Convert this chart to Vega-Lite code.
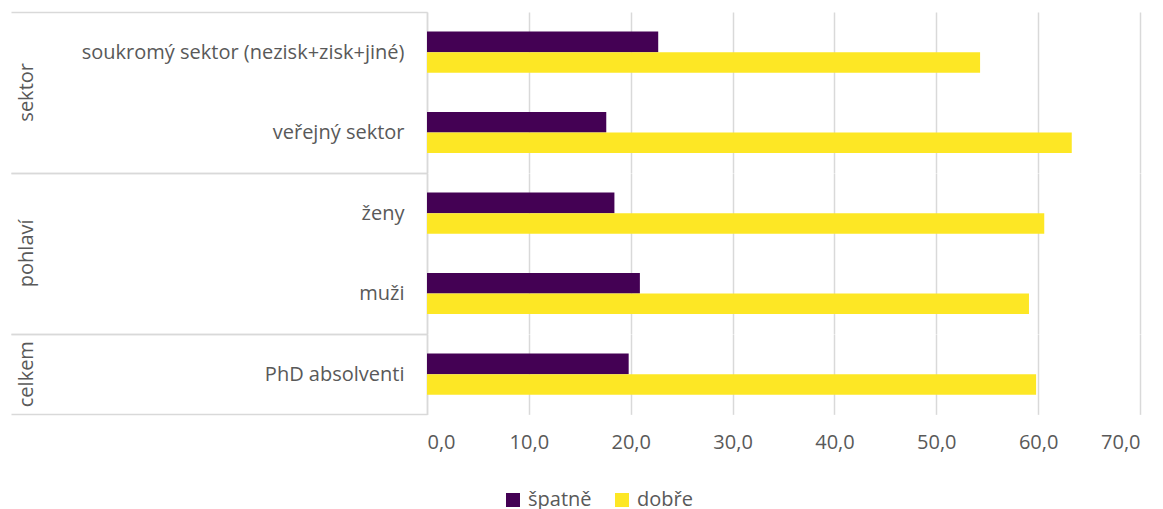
{
  "$schema": "https://vega.github.io/schema/vega-lite/v6.json",
  "padding": {"left": 10, "top": 2, "right": 5, "bottom": 5},
  "background": "white",
  "bounds": "flush",
  "spacing": 0,
  "data": {
    "values": [
      {"skupina": "sektor", "kategorie": "soukromý sektor (nezisk+zisk+jiné)", "serie": "špatně", "hodnota": 22.7},
      {"skupina": "sektor", "kategorie": "soukromý sektor (nezisk+zisk+jiné)", "serie": "dobře", "hodnota": 54.3},
      {"skupina": "sektor", "kategorie": "veřejný sektor", "serie": "špatně", "hodnota": 17.6},
      {"skupina": "sektor", "kategorie": "veřejný sektor", "serie": "dobře", "hodnota": 63.3},
      {"skupina": "pohlaví", "kategorie": "ženy", "serie": "špatně", "hodnota": 18.4},
      {"skupina": "pohlaví", "kategorie": "ženy", "serie": "dobře", "hodnota": 60.6},
      {"skupina": "pohlaví", "kategorie": "muži", "serie": "špatně", "hodnota": 20.9},
      {"skupina": "pohlaví", "kategorie": "muži", "serie": "dobře", "hodnota": 59.1},
      {"skupina": "celkem", "kategorie": "PhD absolventi", "serie": "špatně", "hodnota": 19.8},
      {"skupina": "celkem", "kategorie": "PhD absolventi", "serie": "dobře", "hodnota": 59.8}
    ]
  },
  "facet": {
    "row": {
      "field": "skupina",
      "type": "nominal",
      "sort": ["sektor", "pohlaví", "celkem"],
      "header": {
        "title": null,
        "labelAngle": -90,
        "labelOrient": "left",
        "labelPadding": 380,
        "labelFont": "Open Sans",
        "labelFontSize": 20,
        "labelColor": "#595959"
      }
    }
  },
  "resolve": {"scale": {"y": "independent"}},
  "spec": {
    "width": 713,
    "height": {"step": 20.6},
    "mark": {"type": "bar"},
    "encoding": {
      "y": {
        "field": "kategorie",
        "type": "nominal",
        "sort": ["soukromý sektor (nezisk+zisk+jiné)", "veřejný sektor", "ženy", "muži", "PhD absolventi"],
        "scale": {"paddingInner": 0, "paddingOuter": 0},
        "axis": {
          "title": null,
          "domain": true,
          "domainColor": "#D9D9D9",
          "domainWidth": 1.5,
          "ticks": true,
          "tickBand": "extent",
          "tickSize": 416,
          "tickWidth": 1.5,
          "tickColor": {
            "condition": {"test": "(datum.value === 'soukromý sektor (nezisk+zisk+jiné)' || datum.value === 'ženy') && !datum.extra", "value": "transparent"},
            "value": "#D9D9D9"
          },
          "labelPadding": -393,
          "labelFont": "Open Sans",
          "labelFontSize": 20,
          "labelColor": "#595959",
          "labelLimit": 400
        }
      },
      "yOffset": {
        "field": "serie",
        "type": "nominal",
        "sort": ["špatně", "dobře"],
        "scale": {"paddingInner": 0, "paddingOuter": 0.95}
      },
      "x": {
        "field": "hodnota",
        "type": "quantitative",
        "scale": {"domain": [0, 70], "nice": false},
        "axis": {
          "title": null,
          "values": [0, 10, 20, 30, 40, 50, 60, 70],
          "labelExpr": "replace(format(datum.value, '.1f'), '.', ',')",
          "domain": false,
          "ticks": false,
          "grid": true,
          "gridColor": "#D9D9D9",
          "gridWidth": 1.5,
          "labelPadding": 17,
          "labelFont": "Open Sans",
          "labelFontSize": 20,
          "labelColor": "#595959"
        }
      },
      "color": {
        "field": "serie",
        "type": "nominal",
        "scale": {"domain": ["špatně", "dobře"], "range": ["#440154", "#FDE725"]},
        "legend": {
          "title": null,
          "orient": "none",
          "legendX": 76,
          "legendY": 478,
          "direction": "horizontal",
          "symbolType": "square",
          "symbolSize": 196,
          "symbolStrokeWidth": 0,
          "labelOffset": 5,
          "columnPadding": 20,
          "labelFont": "Open Sans",
          "labelFontSize": 20,
          "labelColor": "#595959"
        }
      }
    }
  },
  "config": {
    "view": {"stroke": null},
    "legend": {"symbolOpacity": 1}
  }
}
